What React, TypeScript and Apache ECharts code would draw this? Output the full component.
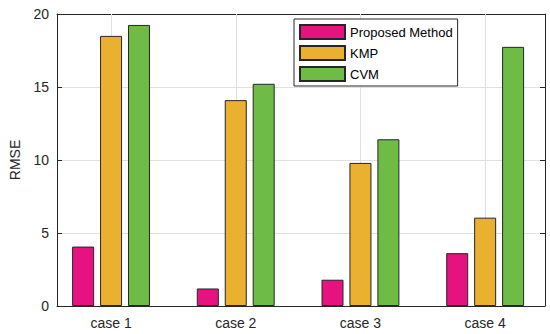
import React, { useEffect, useRef } from "react";
import * as echarts from "echarts";

const categories = ["case 1", "case 2", "case 3", "case 4"];
const seriesNames = ["Proposed Method", "KMP", "CVM"];
const proposed = [4.07, 1.2, 1.8, 3.62];
const kmp = [18.5, 14.1, 9.8, 6.05];
const cvm = [19.25, 15.22, 11.42, 17.75];
const yTicks = { min: 0, max: 20, interval: 5 };

const colors = ["#E6127F", "#EAB130", "#6EBB45"];
const FONT = "'Liberation Sans', Arial, sans-serif";
const AXIS = "#262626";
const GRID = "#E0E0E0";

export default function App() {
  const ref = useRef<HTMLDivElement>(null);
  useEffect(() => {
    document.body.style.margin = "0";
    if (!ref.current) return;
    const chart = echarts.init(ref.current, undefined, { renderer: "svg" });
    const values = [proposed, kmp, cvm];
    const barSeries = seriesNames.map((name, i) => ({
      name,
      type: "bar",
      xAxisIndex: 0,
      yAxisIndex: 0,
      data: values[i],
      barWidth: 22,
      barGap: "27%",
      z: 3,
      itemStyle: { color: colors[i], borderColor: AXIS, borderWidth: 1 },
    }));
    const tick = { inside: true, alignWithLabel: true, length: 5, lineStyle: { color: AXIS } };
    chart.setOption({
      animation: false,
      textStyle: { fontFamily: FONT },
      grid: [
        { left: 48.7, right: 2.5, top: 14, bottom: 28, containLabel: false },
        { left: 52, right: 5, top: 14, bottom: 28, containLabel: false },
      ],
      legend: {
        data: seriesNames,
        orient: "vertical",
        left: 294,
        top: 19,
        itemWidth: 45,
        itemHeight: 14,
        itemGap: 5,
        itemTextGap: 4,
        padding: [5, 5, 4, 5],
        borderColor: AXIS,
        borderWidth: 1,
        backgroundColor: "#fff",
        icon: "rect",
        textStyle: { fontSize: 13, color: "#000", fontFamily: FONT },
        z: 10,
      },
      xAxis: [
        {
          gridIndex: 0,
          type: "category",
          data: categories,
          position: "bottom",
          axisLine: { show: false, onZero: false },
          axisTick: tick,
          axisLabel: { color: AXIS, fontSize: 14, margin: 10, fontFamily: FONT },
          splitLine: { show: false },
        },
        {
          gridIndex: 0,
          type: "category",
          data: categories,
          position: "top",
          axisLine: { show: false, onZero: false },
          axisTick: tick,
          axisLabel: { show: false },
          splitLine: { show: false },
        },
        {
          gridIndex: 1,
          type: "value",
          min: 0,
          max: 1,
          position: "bottom",
          axisLine: { show: true, onZero: false, lineStyle: { color: AXIS, width: 1 } },
          axisTick: { show: false },
          axisLabel: { show: false },
          splitLine: { show: false },
        },
        {
          gridIndex: 1,
          type: "value",
          min: 0,
          max: 1,
          position: "top",
          axisLine: { show: true, onZero: false, lineStyle: { color: AXIS, width: 1 } },
          axisTick: { show: false },
          axisLabel: { show: false },
          splitLine: { show: false },
        },
      ],
      yAxis: [
        {
          gridIndex: 0,
          type: "value",
          min: yTicks.min,
          max: yTicks.max,
          interval: yTicks.interval,
          show: false,
        },
        {
          gridIndex: 1,
          type: "value",
          min: yTicks.min,
          max: yTicks.max,
          interval: yTicks.interval,
          position: "left",
          name: "RMSE",
          nameLocation: "middle",
          nameGap: 35,
          nameTextStyle: { color: AXIS, fontSize: 14, fontFamily: FONT },
          axisLine: { show: true, onZero: false, lineStyle: { color: AXIS, width: 1 } },
          axisTick: { show: true, inside: true, length: 5, lineStyle: { color: AXIS } },
          axisLabel: { color: AXIS, fontSize: 14, margin: 8, fontFamily: FONT },
          splitLine: { show: true, lineStyle: { color: GRID, width: 1 } },
        },
        {
          gridIndex: 1,
          type: "value",
          min: yTicks.min,
          max: yTicks.max,
          interval: yTicks.interval,
          position: "right",
          axisLine: { show: true, onZero: false, lineStyle: { color: AXIS, width: 1 } },
          axisTick: { show: true, inside: true, length: 5, lineStyle: { color: AXIS } },
          axisLabel: { show: false },
          splitLine: { show: false },
        },
      ],
      series: [
        {
          name: "grid-x",
          type: "line",
          xAxisIndex: 0,
          yAxisIndex: 0,
          data: categories.map(() => null),
          z: 1,
          silent: true,
          showSymbol: false,
          markLine: {
            silent: true,
            symbol: "none",
            z: 1,
            label: { show: false },
            lineStyle: { color: GRID, type: "solid", width: 1 },
            data: categories.map((c) => ({ xAxis: c })),
          },
        },
        ...barSeries,
      ],
    });
    return () => chart.dispose();
  }, []);
  return <div ref={ref} style={{ width: 550, height: 334 }} />;
}
